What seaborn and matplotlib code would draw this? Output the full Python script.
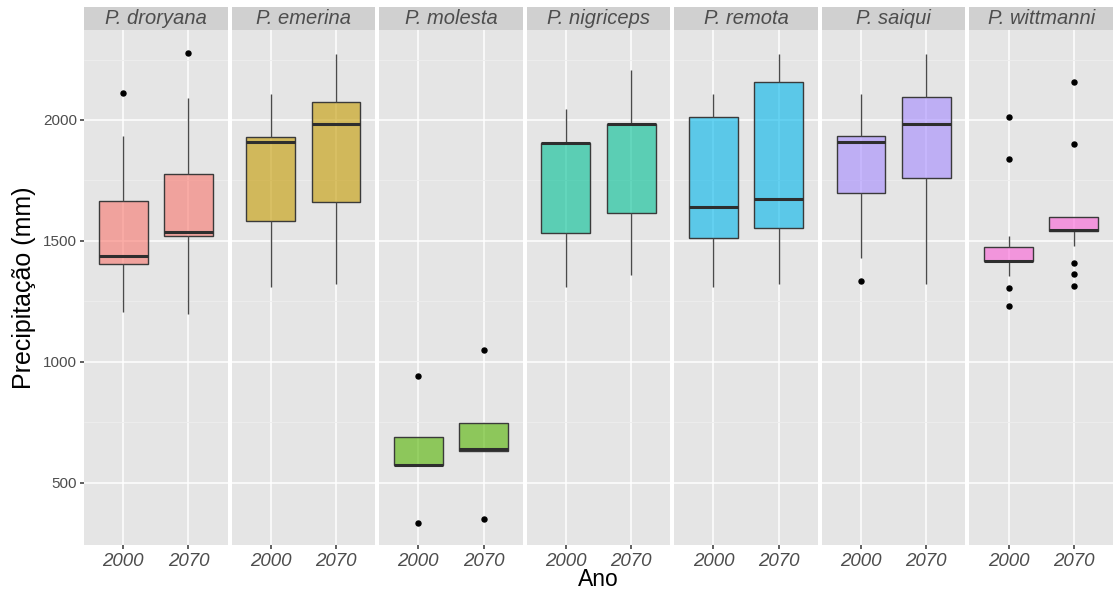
import matplotlib
matplotlib.use("Agg")
import matplotlib.pyplot as plt
from matplotlib.patches import Rectangle
from matplotlib.colors import to_rgba
import seaborn as sns
import pandas as pd

# Species (facets) and years (x categories)
species = ["P. droryana", "P. emerina", "P. molesta", "P. nigriceps",
           "P. remota", "P. saiqui", "P. wittmanni"]
years = ["2000", "2070"]

# Annual precipitation (mm) per occurrence record, by species and year
droryana_2000 = [1207, 1290, 1360, 1406, 1418, 1428, 1436, 1520, 1600, 1664, 1780, 1934, 2112]
droryana_2070 = [1199, 1320, 1450, 1519, 1525, 1530, 1535, 1620, 1700, 1776, 1900, 2091, 2278]
emerina_2000 = [1311, 1420, 1510, 1581, 1760, 1850, 1909, 1915, 1922, 1930, 2000, 2050, 2108]
emerina_2070 = [1324, 1450, 1580, 1660, 1800, 1920, 1983, 2010, 2040, 2075, 2150, 2220, 2274]
molesta_2000 = [335, 572, 572, 572, 573, 574, 575, 620, 660, 689, 689, 689, 942]
molesta_2070 = [352, 632, 632, 632, 634, 636, 638, 680, 720, 747, 747, 747, 1050]
nigriceps_2000 = [1311, 1400, 1480, 1531, 1700, 1850, 1905, 1905, 1905, 1905, 1960, 2010, 2046]
nigriceps_2070 = [1361, 1450, 1550, 1614, 1800, 1930, 1983, 1983, 1983, 1983, 2080, 2150, 2207]
remota_2000 = [1311, 1400, 1470, 1514, 1570, 1610, 1639, 1750, 1900, 2012, 2050, 2080, 2108]
remota_2070 = [1324, 1420, 1500, 1552, 1600, 1640, 1672, 1850, 2000, 2158, 2200, 2240, 2274]
saiqui_2000 = [1335, 1431, 1600, 1700, 1800, 1880, 1909, 1920, 1928, 1934, 2000, 2060, 2108]
saiqui_2070 = [1324, 1500, 1650, 1759, 1880, 1950, 1983, 2020, 2060, 2095, 2170, 2230, 2274]
wittmanni_2000 = [1230, 1307, 1357, 1415, 1416, 1418, 1419, 1440, 1460, 1473, 1519, 1838, 2012]
wittmanni_2070 = [1315, 1363, 1407, 1481, 1543, 1543, 1544, 1544, 1545, 1560, 1580, 1590,
                  1598, 1598, 1598, 1900, 2158]

series = {
    "P. droryana": (droryana_2000, droryana_2070),
    "P. emerina": (emerina_2000, emerina_2070),
    "P. molesta": (molesta_2000, molesta_2070),
    "P. nigriceps": (nigriceps_2000, nigriceps_2070),
    "P. remota": (remota_2000, remota_2070),
    "P. saiqui": (saiqui_2000, saiqui_2070),
    "P. wittmanni": (wittmanni_2000, wittmanni_2070),
}

rows = []
for sp in species:
    for yr, vals in zip(years, series[sp]):
        rows += [{"especie": sp, "ano": yr, "precip": v} for v in vals]
df = pd.DataFrame(rows)

hue_colors = ["#F8766D", "#C49A00", "#53B400", "#00C094", "#00B6EB", "#A58AFF", "#FB61D7"]

sns.set_theme(style="white")
plt.rcParams["font.family"] = ["Liberation Sans", "DejaVu Sans"]

W, H, DPI = 1113, 592, 100
fig, axes = plt.subplots(1, 7, sharey=True, figsize=(W / DPI, H / DPI), dpi=DPI)
fig.patch.set_facecolor("white")
fig.subplots_adjust(left=84 / W, right=1.0, top=1 - 30 / H, bottom=1 - 545 / H, wspace=0.028)

panel_bg = "#E5E5E5"
strip_bg = "#D0D0D0"
ylo, yhi = 243, 2372
strip_h = 23 / (545 - 30)

for ax, sp, col in zip(axes, species, hue_colors):
    sub = df[df["especie"] == sp]
    ax.set_facecolor(panel_bg)
    ax.set_axisbelow(True)
    sns.boxplot(
        data=sub, x="ano", y="precip", order=years, ax=ax,
        color=col, saturation=1, width=0.75, linecolor="#3a3a3a", linewidth=1.0,
        showcaps=False,
        medianprops=dict(color="#2e2e2e", linewidth=2.2),
        whiskerprops=dict(color="#4a4a4a", linewidth=1.0),
        flierprops=dict(marker="o", markerfacecolor="black", markeredgecolor="black",
                        markersize=3.6),
    )
    for p in ax.patches:
        p.set_facecolor(to_rgba(col, 0.6))
    ax.set_xlim(-0.6, 1.6)
    ax.set_ylim(ylo, yhi)
    ax.set_yticks([500, 1000, 1500, 2000])
    ax.set_yticks([750, 1250, 1750, 2250], minor=True)
    ax.grid(True, which="major", color="white", linewidth=1.1)
    ax.grid(True, which="minor", axis="y", color="#EEEEEE", linewidth=0.6)
    for s in ax.spines.values():
        s.set_visible(False)
    ax.set_xlabel("")
    ax.set_ylabel("")
    ax.tick_params(axis="x", length=3, color="#4D4D4D", labelcolor="#4D4D4D",
                   labelsize=13.5, pad=3, bottom=True)
    ax.tick_params(axis="y", which="major", length=3 if ax is axes[0] else 0,
                   color="#4D4D4D", labelcolor="#4D4D4D", labelsize=11, pad=2, left=True)
    ax.tick_params(axis="y", which="minor", length=0)
    for lbl in ax.get_xticklabels():
        lbl.set_fontstyle("italic")
    # facet strip
    ax.add_patch(Rectangle((0, 1), 1, strip_h, transform=ax.transAxes,
                           facecolor=strip_bg, edgecolor="none", clip_on=False))
    ax.text(0.5, 1 + strip_h / 2, sp, transform=ax.transAxes, ha="center", va="center",
            fontsize=14.5, fontstyle="italic", color="#4D4D4D")

axes[0].set_ylabel("Precipitação (mm)", fontsize=18, color="black", labelpad=5)
fig.text((84 + 1113) / 2 / W, 1 - 579 / H, "Ano", ha="center", va="center",
         fontsize=16.5, color="black")

fig.savefig("out.png", dpi=DPI, facecolor="white")
